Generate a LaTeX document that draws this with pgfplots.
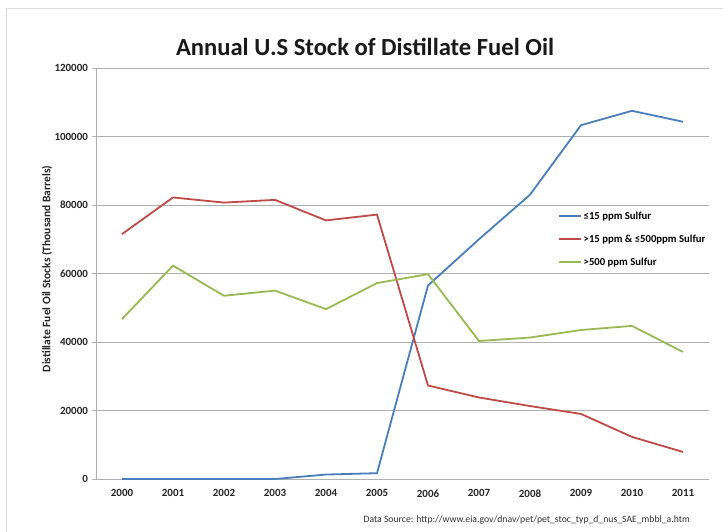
\documentclass[border=0pt]{standalone}
\usepackage{pgfplots}
\pgfplotsset{compat=1.18}
\usepackage{fontspec}
\setmainfont{Carlito}
\definecolor{sblue}{HTML}{4A7EBB}
\definecolor{sred}{HTML}{BE4B48}
\definecolor{sgreen}{HTML}{98B954}
\definecolor{gridc}{HTML}{B0B0B0}
\definecolor{framec}{HTML}{D9D9D9}
\begin{document}
\begin{tikzpicture}[x=1pt,y=1pt]
\useasboundingbox (0,0) rectangle (723,531);
\fill[white] (0,0) rectangle (723,531);
\draw[framec,line width=1.5pt] (6.5,-5) -- (6.5,522.5) -- (730,522.5);
\begin{axis}[
  at={(96.5pt,52pt)}, anchor=south west,
  scale only axis, width=612pt, height=411pt,
  xmin=-0.5, xmax=11.5, ymin=0, ymax=120000,
  xtick={0,...,11},
  xticklabels={2000,2001,2002,2003,2004,2005,2006,2007,2008,2009,2010,2011},
  extra x ticks={-0.5,0.5,...,11.5},
  extra x tick labels={},
  extra x tick style={major tick length=5pt, tick style={gridc}, xticklabel style={opacity=0}},
  x tick style={draw=none},
  ytick={0,20000,...,120000},
  scaled y ticks=false,
  yticklabel={\pgfmathprintnumber[fixed,set thousands separator={}]{\tick}},
  /pgf/number format/assume math mode=true,
  ymajorgrids, grid style={gridc, line width=0.6pt},
  axis x line*=bottom, axis y line*=left,
  axis line style={gridc, line width=0.6pt},
  y tick style={gridc}, major tick length=5pt,
  tick align=outside,
  ticklabel style={font=\fontsize{11}{13}\selectfont\bfseries, text=black!85},
  xticklabel style={yshift=-2pt},
  legend style={at={(axis cs:8.5,79500)}, anchor=north west, draw=none, fill=white,
    font=\fontsize{10.7}{12}\selectfont\bfseries, row sep=10pt, inner xsep=2pt, inner ysep=3pt},
  legend cell align=left,
  legend image code/.code={\draw[#1, line width=2pt] (0pt,0pt) -- (22pt,0pt);},
  clip=false,
]
\addplot[sblue, line width=1.8pt] coordinates {
(0,0) (1,0) (2,0) (3,0) (4,1300) (5,1700) (6,56500) (7,70000) (8,83000) (9,103300) (10,107500) (11,104300)};
\addlegendentry{≤15 ppm Sulfur}
\addplot[sred, line width=1.8pt] coordinates {
(0,71500) (1,82200) (2,80700) (3,81500) (4,75500) (5,77200) (6,27300) (7,23800) (8,21300) (9,19000) (10,12300) (11,7900)};
\addlegendentry{>15 ppm \& ≤500ppm Sulfur}
\addplot[sgreen, line width=1.8pt] coordinates {
(0,46700) (1,62300) (2,53500) (3,55000) (4,49600) (5,57200) (6,59800) (7,40300) (8,41300) (9,43500) (10,44700) (11,37100)};
\addlegendentry{>500 ppm Sulfur}
\end{axis}
\node[font=\fontsize{11.5}{13}\selectfont\bfseries, text=black!85, rotate=90] at (47,262) {Distillate Fuel Oil Stocks (Thousand Barrels)};
\node[font=\fontsize{24.6}{29}\selectfont\bfseries, text=black!90] at (365,484) {Annual U.S Stock of Distillate Fuel Oil};
\node[font=\fontsize{9.7}{11}\selectfont, text=black!80, anchor=west] at (360,11) {Data Source: http://www.eia.gov/dnav/pet/pet\_stoc\_typ\_d\_nus\_SAE\_mbbl\_a.htm};
\end{tikzpicture}
\end{document}
